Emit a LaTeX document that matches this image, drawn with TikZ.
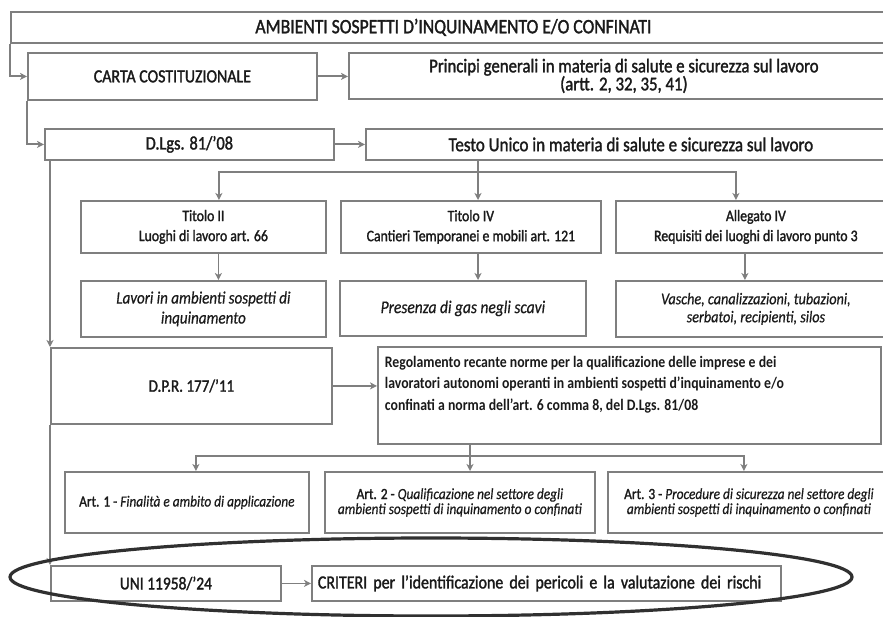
\documentclass[tikz,border=0pt]{standalone}
\usepackage{fontspec}
\setmainfont{Carlito}[FakeStretch=0.86, UprightFeatures={FakeBold=1.6}, ItalicFeatures={FakeBold=0.5}]
\usetikzlibrary{arrows.meta, positioning}
\definecolor{linea}{HTML}{7F7F7F}
\definecolor{scuro}{HTML}{1A1A1A}
\definecolor{ovale}{HTML}{303030}

\begin{document}
\begin{tikzpicture}[x=1pt, y=-1pt,
    blocco/.style={draw=linea, line width=1.8pt, anchor=north west, align=center,
        inner sep=1pt, text=scuro, font=\fontsize{19}{18}\selectfont},
    piccolo/.style={font=\fontsize{16}{20}\selectfont},
    freccia/.style={draw=linea, line width=1.8pt, -{Stealth[length=7pt, width=7pt, inset=2pt]}}]
    \useasboundingbox (0,0) rectangle (883,617);
    \clip (0,0) rectangle (883,617);

    % livello costituzionale
    \node[blocco, minimum width=885, minimum height=31, font=\fontsize{20.5}{20}\selectfont] (titolo) at (10,11)
        {AMBIENTI SOSPETTI D’INQUINAMENTO E/O CONFINATI};
    \node[blocco, minimum width=289, minimum height=47, font=\fontsize{18.5}{20}\selectfont] (carta) at (27,52)
        {CARTA COSTITUZIONALE};
    \node[blocco, minimum width=550, minimum height=46, font=\fontsize{19.5}{18}\selectfont] (principi) at (348,52)
        {Principi generali in materia di salute e sicurezza sul lavoro\\(artt. 2, 32, 35, 41)};

    % Testo Unico
    \node[blocco, minimum width=289, minimum height=31] (dlgs) at (44,128) {D.Lgs. 81/’08};
    \node[blocco, minimum width=530, minimum height=31, font=\fontsize{19.8}{20}\selectfont] (testounico) at (365,128)
        {Testo Unico in materia di salute e sicurezza sul lavoro};
    \node[blocco, piccolo, minimum width=245, minimum height=52] (tit2) at (80,200)
        {Titolo II\\Luoghi di lavoro art. 66};
    \node[blocco, piccolo, minimum width=260, minimum height=52] (tit4) at (340,200)
        {Titolo IV\\Cantieri Temporanei e mobili art. 121};
    \node[blocco, piccolo, minimum width=280, minimum height=52] (all4) at (615,200)
        {Allegato IV\\Requisiti dei luoghi di lavoro punto 3};
    \node[blocco, minimum width=245, minimum height=56, font=\fontsize{17.5}{20}\itshape] (lavori) at (80,280)
        {Lavori in ambienti sospetti di\\inquinamento};
    \node[blocco, minimum width=246, minimum height=55, font=\fontsize{18}{20}\itshape] (presenza) at (339,280)
        {Presenza di gas negli scavi};
    \node[blocco, minimum width=280, minimum height=56, font=\fontsize{16.5}{18}\itshape] (vasche) at (615,280)
        {Vasche, canalizzazioni, tubazioni,\\serbatoi, recipienti, silos};

    % D.P.R. 177/11
    \node[blocco, minimum width=281, minimum height=76, font=\fontsize{17.5}{20}\selectfont] (dpr) at (50,347)
        {D.P.R. 177/’11};
    \node[blocco, align=left, inner xsep=7pt, inner ysep=9pt, font=\fontsize{16}{21.5}\bfseries] (regol) at (377,346)
        {\parbox[c][79pt][t]{489pt}{Regolamento recante norme per la qualificazione delle imprese e dei\\
        lavoratori autonomi operanti in ambienti sospetti d’inquinamento e/o\\
        confinati a norma dell’art. 6 comma 8, del D.Lgs. 81/08}};
    \node[blocco, minimum width=244, minimum height=61, font=\fontsize{15.5}{15}\selectfont] (art1) at (64,471)
        {Art. 1 - \textit{Finalità e ambito di applicazione}};
    \node[blocco, minimum width=270, minimum height=61, font=\fontsize{15.5}{15}\selectfont] (art2) at (324,471)
        {Art. 2 - \textit{Qualificazione nel settore degli}\\\textit{ambienti sospetti di inquinamento o confinati}};
    \node[blocco, minimum width=282, minimum height=61, font=\fontsize{15.5}{15}\selectfont] (art3) at (607,471)
        {Art. 3 - \textit{Procedure di sicurezza nel settore degli}\\\textit{ambienti sospetti di inquinamento o confinati}};

    % norma UNI
    \node[blocco, minimum width=230, minimum height=35, font=\fontsize{18}{20}\selectfont] (uni) at (50,565)
        {UNI 11958/’24};
    \node[blocco, align=left, minimum width=469, minimum height=35, inner xsep=6pt, text width=457,
        font=\fontsize{18.5}{20}\selectfont] (criteri) at (311,565)
        {CRITERI per l’identificazione dei pericoli e la valutazione dei rischi};

    % collegamenti
    \coordinate (ramo) at (478,172);
    \coordinate (ramo2) at (470,456);
    \draw[freccia] (titolo.south west) |- (carta.west);
    \draw[freccia] (carta.east) -- (principi.west |- carta.east);
    \draw[freccia] (carta.south west) |- (dlgs.west);
    \draw[freccia] (dlgs.east) -- (testounico.west |- dlgs.east);
    \draw[freccia] (testounico.south -| ramo) -- (tit4.north -| ramo);
    \draw[freccia] (ramo) -| ([xshift=15.5pt]tit2.north);
    \draw[freccia] (ramo) -| ([xshift=-20pt]all4.north);
    \draw[freccia] ([xshift=15pt]tit2.south) -- ([xshift=15pt]lavori.north);
    \draw[freccia] (tit4.south -| ramo) -- (presenza.north -| ramo);
    \draw[freccia] ([xshift=-11pt]all4.south) -- ([xshift=-11pt]vasche.north);
    \draw[freccia] (dlgs.south -| dpr.west) -- (dpr.north west);
    \draw[freccia] (dpr.east) -- (regol.west |- dpr.east);
    \draw[freccia] (regol.south -| ramo2) -- (art2.north -| ramo2);
    \draw[freccia] (ramo2) -| ([xshift=9pt]art1.north);
    \draw[freccia] (ramo2) -| ([xshift=-5pt]art3.north);
    \draw[freccia] (dpr.south west) -- (uni.north west);
    \draw[freccia] (uni.east) -- (criteri.west);

    % evidenziazione
    \draw[ovale, line width=3.2pt] (431,577) ellipse [x radius=421, y radius=39];
\end{tikzpicture}
\end{document}
